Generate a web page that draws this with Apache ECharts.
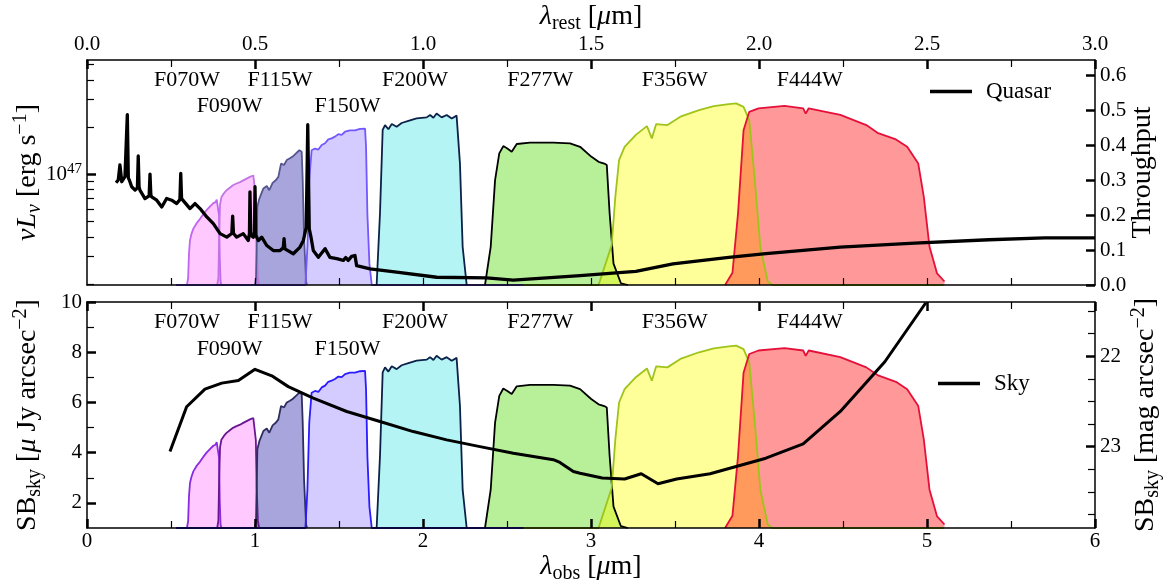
<!DOCTYPE html>
<html>
<head>
<meta charset="utf-8">
<script src="https://cdn.jsdelivr.net/npm/echarts@6/dist/echarts.min.js"></script>
<style>html,body{margin:0;padding:0;background:#fff}#c{width:1164px;height:587px}</style>
</head>
<body>
<div id="c"></div>
<script>
// ---------------- DATA ----------------
const filterNames = ['F070W','F090W','F115W','F150W','F200W','F277W','F356W','F444W'];

// throughput curves: [lambda_obs (um), throughput]
const F070W = [[0.53,0],[0.595,0],[0.602,0.02],[0.607,0.09],[0.613,0.128],[0.622,0.146],[0.633,0.161],[0.653,0.177],[0.673,0.189],[0.693,0.203],[0.713,0.215],[0.733,0.225],[0.752,0.234],[0.765,0.237],[0.772,0.244],[0.778,0.240],[0.782,0.247],[0.786,0.2],[0.79,0.08],[0.795,0.01],[0.80,0]];
const F090W = [[0.775,0],[0.782,0.02],[0.787,0.15],[0.792,0.23],[0.80,0.251],[0.815,0.262],[0.829,0.27],[0.85,0.278],[0.869,0.285],[0.89,0.29],[0.911,0.294],[0.93,0.299],[0.95,0.304],[0.97,0.309],[0.99,0.313],[1.0,0.31],[1.005,0.25],[1.01,0.12],[1.017,0.02],[1.025,0]];
const F115W = [[1.0,0],[1.006,0.02],[1.014,0.224],[1.026,0.247],[1.05,0.276],[1.07,0.283],[1.085,0.271],[1.105,0.292],[1.125,0.30],[1.139,0.309],[1.155,0.347],[1.173,0.343],[1.189,0.357],[1.208,0.362],[1.224,0.367],[1.244,0.376],[1.264,0.385],[1.278,0.381],[1.284,0.30],[1.292,0.138],[1.304,0.01],[1.31,0]];
const F150W = [[0.53,0],[1.30,0],[1.312,0.109],[1.323,0.30],[1.337,0.385],[1.357,0.39],[1.377,0.387],[1.397,0.40],[1.417,0.405],[1.436,0.416],[1.456,0.419],[1.476,0.424],[1.496,0.431],[1.516,0.429],[1.536,0.438],[1.565,0.442],[1.595,0.442],[1.625,0.446],[1.655,0.447],[1.661,0.395],[1.669,0.204],[1.681,0.061],[1.695,0],[2.6,0]];
const F200W = [[1.724,0],[1.744,0.205],[1.76,0.443],[1.774,0.457],[1.794,0.445],[1.814,0.46],[1.843,0.452],[1.873,0.463],[1.913,0.469],[1.962,0.476],[2.022,0.479],[2.042,0.486],[2.062,0.478],[2.081,0.49],[2.111,0.479],[2.141,0.486],[2.171,0.476],[2.2,0.484],[2.21,0.481],[2.22,0.347],[2.236,0.109],[2.26,0]];
const F277W = [[2.369,0],[2.403,0.109],[2.429,0.30],[2.454,0.376],[2.478,0.397],[2.502,0.39],[2.528,0.381],[2.558,0.403],[2.637,0.407],[2.776,0.407],[2.875,0.405],[2.935,0.395],[3.001,0.367],[3.045,0.352],[3.079,0.347],[3.094,0.343],[3.111,0.204],[3.134,0.061],[3.178,0.005],[3.22,0]];
const F356W = [[2.6,0],[3.045,0],[3.123,0.114],[3.145,0.253],[3.167,0.357],[3.2,0.395],[3.267,0.429],[3.333,0.454],[3.362,0.419],[3.388,0.46],[3.455,0.457],[3.532,0.481],[3.643,0.50],[3.731,0.511],[3.82,0.517],[3.864,0.519],[3.908,0.509],[3.942,0.471],[3.975,0.30],[4.008,0.109],[4.052,0.01],[4.08,0],[5.1,0]];
const F444W = [[3.798,0],[3.842,0.035],[3.875,0.204],[3.908,0.442],[3.942,0.495],[3.997,0.505],[4.152,0.512],[4.263,0.505],[4.278,0.49],[4.296,0.505],[4.484,0.486],[4.639,0.457],[4.705,0.435],[4.815,0.416],[4.882,0.395],[4.948,0.347],[4.981,0.252],[5.015,0.109],[5.06,0.033],[5.104,0.01]];
const filterCurves = [F070W,F090W,F115W,F150W,F200W,F277W,F356W,F444W];

// quasar SED: lambda_obs (um) and nu L_nu (units of 1e46 erg/s)
const quasarLambda = [0.173,0.186,0.196,0.207,0.226,0.233,0.240,0.246,0.252,0.266,0.286,0.300,0.305,0.310,0.315,0.345,0.370,0.375,0.380,0.385,0.415,0.445,0.474,0.504,0.534,0.553,0.558,0.563,0.573,0.613,0.643,0.673,0.713,0.752,0.792,0.832,0.862,0.867,0.872,0.891,0.930,0.960,0.967,0.970,0.975,0.990,0.997,1.000,1.004,1.020,1.040,1.070,1.109,1.149,1.168,1.173,1.178,1.189,1.228,1.268,1.288,1.305,1.314,1.323,1.333,1.347,1.377,1.417,1.446,1.486,1.526,1.540,1.555,1.575,1.595,1.605,1.685,1.843,2.082,2.379,2.538,2.935,3.267,3.488,3.820,4.041,4.484,4.926,5.369,5.701,6.0];
const quasarLum    = [8.84,9.19,11.47,8.97,9.66,9.9,23.99,9.5,9.19,8.33,7.93,8.2,13.09,8.3,7.93,7.01,7.3,10.04,7.4,7.18,6.84,6.19,7.01,6.84,6.51,6.9,10.14,7.0,6.84,6.05,6.51,6.05,5.35,4.85,4.19,3.98,4.2,5.41,4.2,3.98,4.19,3.79,4.2,7.73,4.1,3.98,4.3,8.33,4.1,3.79,3.98,3.52,3.27,3.27,3.4,3.89,3.35,3.27,3.12,3.44,3.79,4.6,20.70,4.5,4.0,3.27,2.96,3.36,2.96,2.90,2.83,2.95,2.83,3.0,3.04,2.62,2.50,2.38,2.21,2.19,2.12,2.26,2.41,2.69,2.96,3.12,3.44,3.65,3.83,3.94,3.94];

// sky background: lambda_obs (um) and SB (uJy/arcsec^2)
const skyLambda = [0.494,0.593,0.702,0.802,0.901,1.0,1.1,1.198,1.347,1.546,1.744,1.942,2.141,2.339,2.538,2.776,2.815,2.895,2.935,3.067,3.2,3.299,3.399,3.51,3.709,3.864,4.041,4.263,4.484,4.749,4.993];
const skySB     = [4.05,5.83,6.53,6.77,6.87,7.32,7.06,6.63,6.17,5.64,5.24,4.84,4.51,4.24,3.98,3.72,3.61,3.25,3.18,2.99,2.95,3.16,2.76,2.95,3.16,3.45,3.78,4.35,5.64,7.62,9.97];

// tick values
const obsTicks = [0,1,2,3,4,5,6];
const obsMinor = [0.5,1.5,2.5,3.5,4.5,5.5];
const restTicks = [0,0.5,1,1.5,2,2.5,3];
const restMinor = [0.25,0.75,1.25,1.75,2.25,2.75];
const thrTicks = [0,0.1,0.2,0.3,0.4,0.5,0.6];
const sbTicks = [2,4,6,8,10];
const sbMinor = [3,5,7,9];
const magTicks = [22,23];
const magMinor = [21.5,21.75,22.25,22.5,22.75,23.25,23.5,23.75];
const lumMajorExp = [47];
const lumMinorMult = [2e46,3e46,4e46,5e46,6e46,7e46,8e46,9e46,2e47,3e47,4e47,5e47];

// ---------------- STYLE / LAYOUT ----------------
const SERIF = '"Liberation Serif","DejaVu Serif",serif';
const topEdge = ['#c066f2','#c276e4','#56568f','#7457ff','#0b2148','#000000','#9ec41a','#e5103a'];
const botEdge = ['#8a2be2','#6a1690','#2e2e5e','#2b1bff','#0b2148','#000000','#9ec41a','#e5103a'];
const fills = ['rgba(255,117,255,0.4)','rgba(255,117,255,0.4)','rgba(38,28,168,0.4)','rgba(147,127,255,0.4)','rgba(67,228,228,0.4)','rgba(77,217,2,0.4)','rgba(255,255,0,0.4)','rgba(255,0,0,0.4)'];
const labelLambda = [0.595,0.849,1.149,1.551,1.952,2.698,3.499,4.302];
const labelRow = [0,1,0,1,0,0,0,0];
const rowT = [0.585,0.51];
const THR_MAX = 0.643;

function rich(big, small){
  return {
    r:{fontSize:big,fontFamily:SERIF,color:'#000',lineHeight:Math.round(big*1.2),verticalAlign:'middle'},
    i:{fontSize:big,fontFamily:SERIF,fontStyle:'italic',color:'#000',lineHeight:Math.round(big*1.2),verticalAlign:'middle'},
    sub:{fontSize:small,fontFamily:SERIF,color:'#000',lineHeight:small,verticalAlign:'bottom'},
    isub:{fontSize:small,fontFamily:SERIF,fontStyle:'italic',color:'#000',lineHeight:small,verticalAlign:'bottom'},
    sup:{fontSize:small,fontFamily:SERIF,color:'#000',lineHeight:small,verticalAlign:'top'}
  };
}
const LINE = {show:true,onZero:false,lineStyle:{color:'#000',width:1.5}};
const NOLINE = {show:false,onZero:false};
function major(vals){return {show:true,inside:true,length:9,customValues:vals,lineStyle:{color:'#000',width:2.5}};}
function minor(vals){return {show:true,inside:true,length:7,customValues:vals,lineStyle:{color:'#000',width:1.2}};}
function labels(vals, fmt, margin){return {show:true,customValues:vals,formatter:fmt,margin:margin,fontSize:21,fontFamily:SERIF,color:'#000',rich:rich(21,15)};}
const NOLAB = {show:false};
function ax(o){return Object.assign({type:'value',z:5,splitLine:{show:false},axisLine:NOLINE,axisTick:{show:false},axisLabel:NOLAB,nameMoveOverlap:false,animation:false},o);}

const nameStyle = {fontSize:28,fontFamily:SERIF,color:'#000',rich:rich(28,20)};

const xAxis = [
  ax({gridIndex:0,position:'bottom',min:0,max:6,axisLine:LINE,axisTick:minor(obsMinor.concat([1,2,3,4,5]))}),
  ax({gridIndex:0,position:'top',min:0,max:3,axisLine:LINE,axisTick:major(restTicks),
      axisLabel:labels(restTicks,v=>v.toFixed(1),5),
      name:'{i|λ}{sub|rest} {r|[}{i|μ}{r|m]}',nameLocation:'middle',nameGap:26,nameTextStyle:nameStyle}),
  ax({gridIndex:0,position:'top',min:0,max:3,axisTick:minor(restMinor)}),
  ax({gridIndex:1,position:'bottom',min:0,max:6,axisLine:LINE,axisTick:major(obsTicks),
      axisLabel:labels(obsTicks,v=>String(v),3),
      name:'{i|λ}{sub|obs} {r|[}{i|μ}{r|m]}',nameLocation:'middle',nameGap:22,nameTextStyle:nameStyle}),
  ax({gridIndex:1,position:'bottom',min:0,max:6,axisTick:minor(obsMinor)}),
  ax({gridIndex:1,position:'top',min:0,max:6,axisLine:LINE,axisTick:major(obsTicks)}),
  ax({gridIndex:1,position:'top',min:0,max:6,axisTick:minor(obsMinor)})
];

const LMIN = 46.295, LMAX = 47.728;
const yAxis = [
  ax({gridIndex:0,position:'left',min:LMIN,max:LMAX,axisLine:LINE,axisTick:major(lumMajorExp),
      axisLabel:labels(lumMajorExp,v=>'{r|10}{sup|'+v+'}',5),
      name:'{i|νL}{isub|ν} {r|[erg s}{sup|−1}{r|]}',nameLocation:'middle',nameRotate:90,nameGap:42,nameTextStyle:nameStyle}),
  ax({gridIndex:0,position:'left',min:LMIN,max:LMAX,axisTick:minor(lumMinorMult.map(v=>Math.log10(v)))}),
  ax({gridIndex:0,position:'right',min:0,max:THR_MAX,axisLine:LINE,axisTick:major(thrTicks),
      axisLabel:labels(thrTicks,v=>v.toFixed(1),5),
      name:'Throughput',nameLocation:'middle',nameRotate:90,nameGap:34,nameTextStyle:nameStyle}),
  ax({gridIndex:1,position:'left',min:1,max:10,axisLine:LINE,axisTick:major(sbTicks),
      axisLabel:labels(sbTicks,v=>String(v),5),
      name:'{r|SB}{sub|sky} {r|[}{i|μ}{r| Jy arcsec}{sup|−2}{r|]}',nameLocation:'middle',nameRotate:90,nameGap:42,nameTextStyle:nameStyle}),
  ax({gridIndex:1,position:'left',min:1,max:10,axisTick:minor(sbMinor)}),
  ax({gridIndex:1,position:'right',min:21.4,max:23.9,inverse:true,axisLine:LINE,axisTick:major(magTicks),
      axisLabel:labels(magTicks,v=>String(v),5),
      name:'{r|SB}{sub|sky} {r|[mag arcsec}{sup|−2}{r|]}',nameLocation:'middle',nameRotate:90,nameGap:34,nameTextStyle:nameStyle}),
  ax({gridIndex:1,position:'right',min:21.4,max:23.9,inverse:true,axisTick:minor(magMinor)}),
  ax({gridIndex:1,position:'right',min:0,max:THR_MAX,show:false})
];

const series = [];
function addFilters(xi, yi, edges){
  filterNames.forEach((n,k)=>{
    series.push({type:'line',name:n,xAxisIndex:xi,yAxisIndex:yi,data:filterCurves[k],showSymbol:false,symbol:'none',
      lineStyle:{color:edges[k],width:1.8},itemStyle:{color:edges[k]},areaStyle:{color:fills[k],opacity:1,origin:'start'},z:2,silent:true});
  });
  series.push({type:'scatter',xAxisIndex:xi,yAxisIndex:yi,symbolSize:1,itemStyle:{color:'transparent'},z:4,silent:true,
    data:filterNames.map((n,k)=>({name:n,value:[labelLambda[k],rowT[labelRow[k]]]})),
    label:{show:true,position:'inside',formatter:p=>p.name,fontSize:22,fontFamily:SERIF,color:'#000',opacity:1,textBorderWidth:0}});
}
addFilters(0,2,topEdge);
series.push({type:'line',name:'Quasar',xAxisIndex:0,yAxisIndex:0,showSymbol:false,symbol:'none',color:'#000',
  data:quasarLambda.map((l,k)=>[l,46+Math.log10(quasarLum[k])]),lineStyle:{color:'#000',width:3.3,join:'round'},z:3});
addFilters(3,7,botEdge);
series.push({type:'line',name:'Sky',xAxisIndex:3,yAxisIndex:3,showSymbol:false,symbol:'none',color:'#000',
  data:skyLambda.map((l,k)=>[l,skySB[k]]),lineStyle:{color:'#000',width:3,join:'round'},z:3});

const legendText = {fontSize:23,fontFamily:SERIF,color:'#000',padding:[0,0,0,9]};
const option = {
  animation:false,
  backgroundColor:'#fff',
  grid:[
    {left:87,right:69,top:60,height:225,outerBoundsMode:'none',containLabel:false},
    {left:87,right:69,top:302,height:226,outerBoundsMode:'none',containLabel:false}
  ],
  legend:[
    {data:['Quasar'],left:925,top:75,icon:'rect',itemWidth:42,itemHeight:3.5,textStyle:legendText,selectedMode:false},
    {data:['Sky'],left:933,top:367,icon:'rect',itemWidth:42,itemHeight:3.5,textStyle:legendText,selectedMode:false}
  ],
  xAxis:xAxis,
  yAxis:yAxis,
  series:series
};
const chart = echarts.init(document.getElementById('c'),null,{renderer:'canvas'});
chart.setOption(option);
</script>
</body>
</html>
